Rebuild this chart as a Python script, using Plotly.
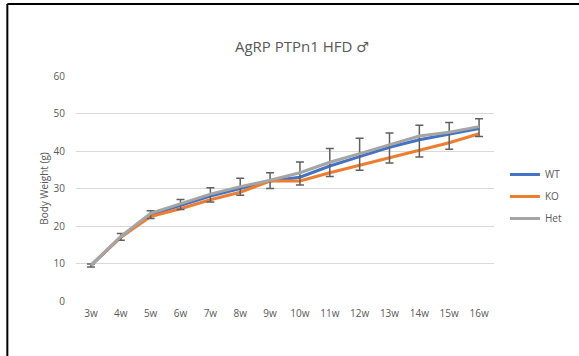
import plotly.graph_objects as go

weeks = ["3w", "4w", "5w", "6w", "7w", "8w", "9w", "10w", "11w", "12w", "13w", "14w", "15w", "16w"]
wt = [9.5, 17.0, 23.0, 25.5, 28.0, 30.0, 32.0, 33.0, 36.0, 38.5, 41.0, 43.0, 44.5, 46.0]
ko = [9.5, 17.0, 22.5, 24.6, 27.0, 29.0, 32.0, 32.0, 34.2, 36.2, 38.3, 40.2, 42.2, 44.6]
het = [9.5, 17.2, 23.4, 26.0, 28.5, 30.5, 32.2, 34.2, 37.0, 39.3, 41.6, 44.0, 45.0, 46.5]
err_plus = [0.4, 0.8, 0.7, 1.1, 1.7, 2.2, 2.0, 2.9, 3.7, 4.1, 3.2, 2.9, 2.6, 2.1]
err_minus = [0.4, 1.0, 1.4, 1.6, 2.1, 2.3, 2.2, 3.3, 3.8, 4.4, 4.8, 5.6, 4.5, 2.6]

text_color = "#595959"
fig = go.Figure()
fig.add_trace(go.Scatter(x=weeks, y=wt, name="WT", mode="lines", legendgroup="a",
                         line=dict(color="#4472C4", width=3)))
fig.add_trace(go.Scatter(x=weeks, y=ko, name="KO", mode="lines", legendgroup="b",
                         line=dict(color="#ED7D31", width=3)))
fig.add_trace(go.Scatter(x=weeks, y=het, name="Het", mode="lines", legendgroup="c",
                         line=dict(color="#A5A5A5", width=3),
                         error_y=dict(type="data", symmetric=False, array=err_plus,
                                      arrayminus=err_minus, visible=True,
                                      color="#606060", thickness=1.5, width=4)))

W, H = 579, 356
L, R, T, B = 76, 83, 76, 55
pw, ph = W - L - R, H - T - B

def px(xp):
    return (xp - L) / pw

def py(yp):
    return (H - B - yp) / ph

fig.update_layout(
    width=W, height=H,
    margin=dict(l=L, r=R, t=T, b=B),
    paper_bgcolor="white", plot_bgcolor="white",
    font=dict(family="Open Sans, Liberation Sans, sans-serif", size=10, color=text_color),
    title=dict(text="AgRP PTPn1 HFD <span style='font-family:DejaVu Sans;font-size:14px'>♂</span>",
               x=px(295), xanchor="center",
               y=1 - 47 / H, yanchor="middle",
               font=dict(size=15, color=text_color)),
    showlegend=True,
    legend=dict(x=px(507), y=py(160), xanchor="left", yanchor="top",
                font=dict(size=10, color=text_color), itemwidth=30,
                tracegroupgap=3, bgcolor="rgba(0,0,0,0)"),
    xaxis=dict(type="category", range=[-0.5, 13.5], showgrid=False, zeroline=False,
               showline=False, ticks="", ticklabelstandoff=5,
               tickfont=dict(size=10, color=text_color)),
    yaxis=dict(range=[0, 60], dtick=10, showgrid=True, gridcolor="#D9D9D9", gridwidth=1,
               zeroline=False, showline=False, ticks="", ticklabelstandoff=10,
               tickfont=dict(size=10, color=text_color),
               title=dict(text="Body Weight (g)", font=dict(size=10, color=text_color),
                          standoff=3)),
    shapes=[
        dict(type="line", xref="paper", yref="paper", x0=px(7), x1=px(W + 5),
             y0=py(4), y1=py(4), line=dict(color="black", width=2)),
        dict(type="line", xref="paper", yref="paper", x0=px(7), x1=px(7),
             y0=py(4), y1=py(H + 5), line=dict(color="black", width=2)),
    ],
)

fig.write_html("out.html", config={"displayModeBar": False},
               post_script="document.body.style.margin='0px';document.body.style.overflow='hidden';")
